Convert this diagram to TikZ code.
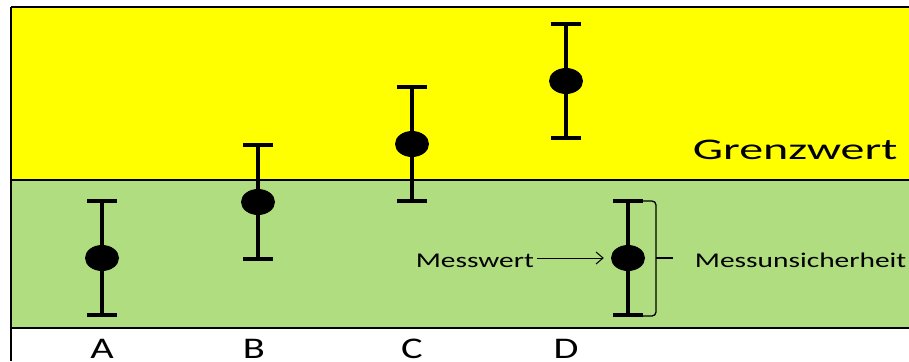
\documentclass[tikz,border=0pt]{standalone}
\usepackage{fontspec}
\setmainfont{Carlito}
\usetikzlibrary{shapes.geometric,arrows.meta}
\definecolor{grenzgelb}{RGB}{255,255,0}
\definecolor{messgruen}{RGB}{175,221,127}
\begin{document}
\begin{tikzpicture}[>={Straight Barb[length=7pt,width=12pt]}, x=1pt, y=-1pt,
  fehler/.style={line width=4.5pt},
  wert/.style={ellipse, fill=black, minimum width=34pt, minimum height=26pt, inner sep=0pt},
  breit/.style={xscale=#1, transform shape}]
\useasboundingbox (0,0) rectangle (909,361);
\fill[grenzgelb](11,7) rectangle (915,180);
\fill[messgruen](11,180) rectangle (915,328);
\draw[line width=2pt](11,7)--(915,7);
\draw[line width=1.6pt](11,180)--(915,180);
\draw[line width=1.6pt](11,328)--(915,328);
\draw[line width=1.6pt](11,7)--(11,361);

\foreach \n/\x/\y in {A/102/258, B/258/202, C/412/144, D/566/81, E/628/258}
{
    \draw[fehler](\x-15,\y-57)--++(30,0) (\x,\y-57)--(\x,\y+57) (\x-15,\y+57)--++(30,0);
    \node[wert](\n) at (\x,\y) {};
}
\foreach \n/\x in {A/102, B/254, C/412, D/566}
{
    \node[anchor=base, breit=1.35, font=\fontsize{30}{32}\selectfont](label\n) at (\x,358) {\n};
}
\node[anchor=base east, breit=1.6, font=\fontsize{30}{32}\selectfont](grenzwert) at (903,159) {Grenzwert};
\node[anchor=base east, breit=1.4, font=\fontsize{21}{24}\selectfont, inner sep=2pt](messwert) at (537,267) {Messwert};
\draw[->, line width=1pt, shorten >=7pt](messwert.east|-E)--(E);
\coordinate (klammer) at (656,258);
\draw[line width=1.3pt, rounded corners=4pt](643,201)--(656,201)--(656,316)--(643,316);
\draw[line width=1.3pt](klammer)--++(17,0);
\node[anchor=base west, breit=1.4, font=\fontsize{21}{24}\selectfont](unsicherheit) at (690,267) {Messunsicherheit};
\end{tikzpicture}
\end{document}
